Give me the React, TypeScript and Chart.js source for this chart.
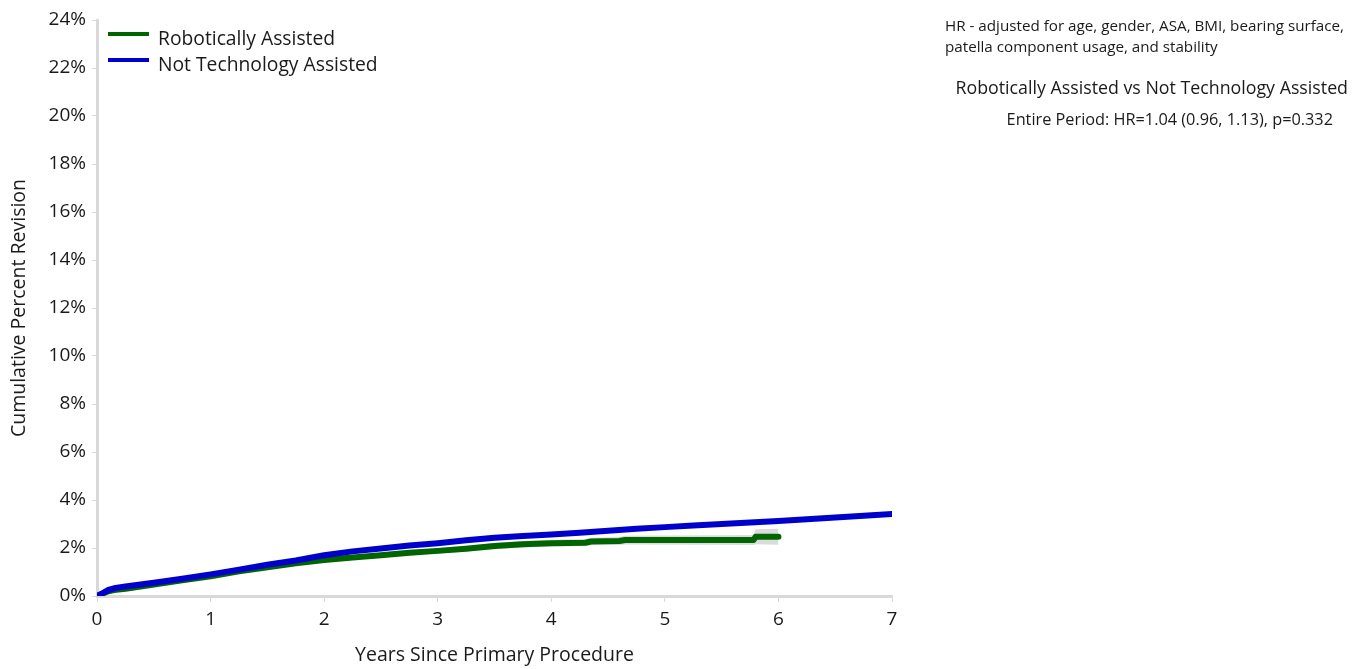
import React, { useEffect, useRef } from "react";
import { Chart, registerables } from "chart.js";

Chart.register(...registerables);

const seriesNames = ["Robotically Assisted", "Not Technology Assisted"];
const seriesColors = ["#006400", "#0000CC"];

// Robotically Assisted
const raYears = [0, 0.05, 0.1, 0.15, 0.25, 0.5, 0.75, 1, 1.25, 1.5, 1.75, 2, 2.25, 2.5, 2.75, 3, 3.25, 3.5, 3.75, 4, 4.3, 4.35, 4.6, 4.65, 5.78, 5.8, 6.0];
const raValues = [0, 0.1, 0.2, 0.25, 0.3, 0.48, 0.65, 0.82, 1.03, 1.2, 1.36, 1.5, 1.6, 1.7, 1.8, 1.88, 1.97, 2.08, 2.16, 2.2, 2.22, 2.27, 2.29, 2.33, 2.33, 2.47, 2.47];
const raLower = [0, 0.08, 0.16, 0.2, 0.25, 0.42, 0.58, 0.75, 0.95, 1.12, 1.27, 1.41, 1.5, 1.6, 1.69, 1.77, 1.85, 1.95, 2.02, 2.06, 2.07, 2.11, 2.12, 2.15, 2.12, 2.16, 2.14];
const raUpper = [0, 0.12, 0.24, 0.3, 0.35, 0.54, 0.72, 0.89, 1.11, 1.28, 1.45, 1.59, 1.7, 1.8, 1.91, 1.99, 2.09, 2.21, 2.3, 2.34, 2.37, 2.43, 2.46, 2.51, 2.54, 2.78, 2.8];

// Not Technology Assisted
const ntaYears = [0, 0.05, 0.1, 0.15, 0.25, 0.5, 0.75, 1, 1.25, 1.5, 1.75, 2, 2.25, 2.5, 2.75, 3, 3.25, 3.5, 3.75, 4, 4.25, 4.5, 4.75, 5, 5.25, 5.5, 5.75, 6, 6.25, 6.5, 6.75, 7];
const ntaValues = [0, 0.12, 0.25, 0.32, 0.4, 0.55, 0.72, 0.9, 1.1, 1.3, 1.48, 1.7, 1.86, 1.98, 2.1, 2.2, 2.32, 2.43, 2.5, 2.56, 2.64, 2.72, 2.8, 2.87, 2.94, 3.0, 3.06, 3.12, 3.2, 3.27, 3.34, 3.42];
const ntaLower = [0, 0.11, 0.23, 0.3, 0.38, 0.53, 0.7, 0.88, 1.08, 1.28, 1.46, 1.67, 1.83, 1.95, 2.07, 2.17, 2.29, 2.4, 2.47, 2.52, 2.6, 2.68, 2.76, 2.83, 2.89, 2.95, 3.01, 3.07, 3.14, 3.2, 3.26, 3.33];
const ntaUpper = [0, 0.13, 0.27, 0.34, 0.42, 0.57, 0.74, 0.92, 1.12, 1.32, 1.5, 1.73, 1.89, 2.01, 2.13, 2.23, 2.35, 2.46, 2.53, 2.6, 2.68, 2.76, 2.84, 2.91, 2.99, 3.05, 3.11, 3.17, 3.26, 3.34, 3.42, 3.51];

const yTicks = [0, 2, 4, 6, 8, 10, 12, 14, 16, 18, 20, 22, 24];
const xTicks = [0, 1, 2, 3, 4, 5, 6, 7];

const noteLines = [
  "HR - adjusted for age, gender, ASA, BMI, bearing surface,",
  "patella component usage, and stability",
  "Robotically Assisted vs Not Technology Assisted",
  "Entire Period: HR=1.04 (0.96, 1.13), p=0.332",
];

const FONT = "'Open Sans', 'Noto Sans', sans-serif";
const TEXT = "#1a1a1a";
const AXIS = "#d9d9d9";
const BAND = "rgba(200,200,200,0.65)";

const pts = (xs: number[], ys: number[]) => xs.map((x, i) => ({ x, y: ys[i] }));

export default function App() {
  const ref = useRef<HTMLCanvasElement>(null);
  useEffect(() => {
    if (!ref.current) return;
    const chart = new Chart(ref.current, {
      type: "line",
      data: {
        datasets: [
          { label: "ra-lo", data: pts(raYears, raLower), borderWidth: 0, pointRadius: 0, fill: false, order: 2, backgroundColor: BAND },
          { label: "ra-hi", data: pts(raYears, raUpper), borderWidth: 0, pointRadius: 0, fill: "-1", order: 2, backgroundColor: BAND },
          { label: "nta-lo", data: pts(ntaYears, ntaLower), borderWidth: 0, pointRadius: 0, fill: false, order: 2, backgroundColor: BAND },
          { label: "nta-hi", data: pts(ntaYears, ntaUpper), borderWidth: 0, pointRadius: 0, fill: "-1", order: 2, backgroundColor: BAND },
          { label: seriesNames[0], data: pts(raYears, raValues), borderColor: seriesColors[0], borderWidth: 6, pointRadius: 0, fill: false, order: 1, borderCapStyle: "round", borderJoinStyle: "round" },
          { label: seriesNames[1], data: pts(ntaYears, ntaValues), borderColor: seriesColors[1], borderWidth: 6, pointRadius: 0, fill: false, order: 0, borderCapStyle: "round", borderJoinStyle: "round" },
        ],
      },
      options: {
        responsive: false,
        animation: false,
        layout: { padding: { left: 8, top: 20, right: 473, bottom: 2 } },
        plugins: { legend: { display: false }, tooltip: { enabled: false } },
        scales: {
          x: {
            type: "linear",
            min: 0,
            max: 7,
            afterBuildTicks: (s: any) => { s.ticks = xTicks.map((v) => ({ value: v })); },
            afterFit: (s: any) => { s.height = 71; },
            ticks: { font: { family: FONT, size: 19 }, color: TEXT, padding: 6 },
            grid: { drawOnChartArea: false, color: AXIS, tickLength: 6, lineWidth: 1 },
            border: { color: AXIS, width: 3 },
            title: { display: true, text: "Years Since Primary Procedure", font: { family: FONT, size: 19.5 }, color: TEXT, padding: { top: 4, bottom: 0 } },
          },
          y: {
            min: 0,
            max: 24,
            afterBuildTicks: (s: any) => { s.ticks = yTicks.map((v) => ({ value: v })); },
            afterFit: (s: any) => { s.width = 89; },
            ticks: { font: { family: FONT, size: 19 }, color: TEXT, padding: 6, callback: (v: any) => v + "%" },
            grid: { drawOnChartArea: false, color: AXIS, tickLength: 5, lineWidth: 1 },
            border: { color: AXIS, width: 3 },
            title: { display: true, text: "Cumulative Percent Revision", font: { family: FONT, size: 19.5 }, color: TEXT, padding: { top: 0, bottom: 0 } },
          },
        },
      },
    });
    return () => chart.destroy();
  }, []);

  const legendItem = (i: number, top: number) => (
    <div style={{ position: "absolute", left: 108, top, display: "flex", alignItems: "center", height: 26 }}>
      <div style={{ width: 41, height: 4, background: seriesColors[i], marginRight: 9, marginTop: -6 }} />
      <span style={{ fontFamily: FONT, fontSize: 19.3, color: TEXT, whiteSpace: "nowrap" }}>{seriesNames[i]}</span>
    </div>
  );

  return (
    <div style={{ position: "absolute", left: 0, top: 0, width: 1365, height: 669, background: "#fff" }}>
      <canvas ref={ref} width={1365} height={669} style={{ position: "absolute", left: 0, top: 0, display: "block" }} />
      {legendItem(0, 24)}
      {legendItem(1, 50)}
      <div style={{ position: "absolute", left: 945, top: 15, fontFamily: FONT, fontSize: 15.2, color: TEXT, lineHeight: "21px", whiteSpace: "nowrap" }}>
        <div>{noteLines[0]}</div>
        <div>{noteLines[1]}</div>
      </div>
      <div style={{ position: "absolute", right: 1365 - 1348, top: 75, fontFamily: FONT, fontSize: 17.8, color: TEXT, whiteSpace: "nowrap" }}>{noteLines[2]}</div>
      <div style={{ position: "absolute", right: 1365 - 1333, top: 108, fontFamily: FONT, fontSize: 16.3, color: TEXT, whiteSpace: "nowrap" }}>{noteLines[3]}</div>
    </div>
  );
}
